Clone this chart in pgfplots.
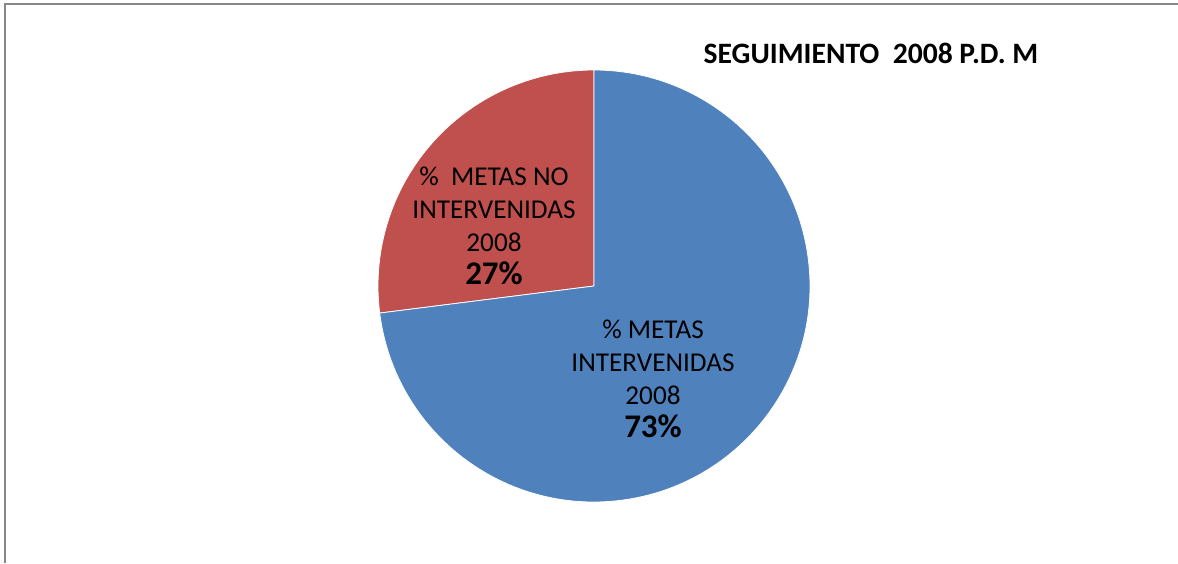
\documentclass[border=0pt]{standalone}
\usepackage{fontspec}
\setmainfont{Carlito}
\usepackage{pgfplots}
\usepackage{pgfplotstable}
\pgfplotsset{compat=1.18}

\definecolor{pieblue}{HTML}{4F81BD}
\definecolor{piered}{HTML}{C0504D}
\definecolor{framegray}{HTML}{878787}

% share of goals, 2008
\pgfplotstableread{
label value
no 27
si 73
}\piedata

\begin{document}
\begin{tikzpicture}
\pgfplotstablegetelem{0}{value}\of\piedata \let\vno\pgfplotsretval
\pgfplotstablegetelem{1}{value}\of\piedata \let\vsi\pgfplotsretval
\pgfmathsetmacro\aend{90+3.6*\vno}
\pgfmathsetmacro\bend{\aend+3.6*\vsi}
\begin{axis}[
    width=589pt, height=281.5pt,
    scale only axis,
    hide axis,
    xmin=0, xmax=1178,
    ymin=0, ymax=563,
]
\path (axis cs:0,0) rectangle (axis cs:1178,563);
% frame
\draw[framegray, line width=1pt] (axis cs:5,0) -- (axis cs:5,558.5) -- (axis cs:1178,558.5);

% slices
\filldraw[fill=piered, draw=white, line width=0.4pt]
    (axis cs:594,277) -- (axis cs:594,493)
    arc[start angle=90, end angle=\aend, radius=108pt] -- cycle;
\filldraw[fill=pieblue, draw=white, line width=0.4pt]
    (axis cs:594,277) -- (axis cs:{594+216*cos(\aend)},{277+216*sin(\aend)})
    arc[start angle=\aend, end angle=\bend, radius=108pt] -- cycle;

% labels
\node[font=\fontsize{14.8}{16}\selectfont\bfseries] at (axis cs:871,510)
    {SEGUIMIENTO\ \ 2008 P.D. M};
\node[align=center, font=\fontsize{13.6}{16.5}\selectfont] at (axis cs:494,337)
    {\%\ \ METAS NO\\INTERVENIDAS\\2008\\{\fontsize{16.5}{16.5}\selectfont\bfseries \vno\%}};
\node[align=center, font=\fontsize{13.6}{16.5}\selectfont] at (axis cs:653,184)
    {\% METAS\\INTERVENIDAS\\2008\\{\fontsize{16.5}{16.5}\selectfont\bfseries \vsi\%}};
\end{axis}
\end{tikzpicture}
\end{document}
